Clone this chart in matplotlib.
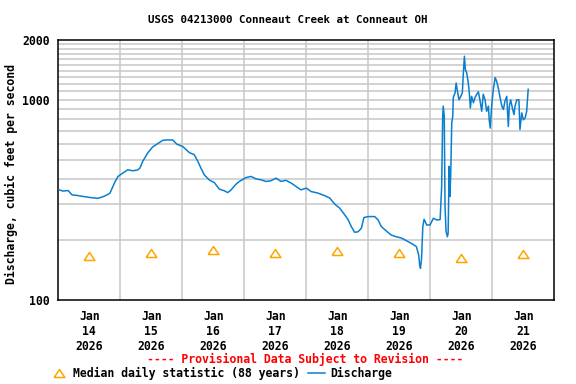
import matplotlib
matplotlib.use("Agg")
import matplotlib.pyplot as plt
from matplotlib.lines import Line2D
import numpy as np

# ---- data ----
# hours since 2026-01-14 00:00
hours = [0.3, 1.8, 3.8, 5.3, 7.2, 9.6, 12.3, 15.0, 16.1, 17.3, 18.9, 20.0, 21.9, 23.1,
         24.9, 26.9, 28.8, 30.7, 31.6, 32.7, 34.6, 36.5, 38.5, 40.4, 41.7, 44.3, 45.9,
         48.2, 50.7, 52.6, 54.0, 55.2, 56.5, 58.5, 60.4, 62.3, 64.3, 65.6, 66.9, 68.8,
         70.1, 72.7, 74.6, 76.5, 78.5, 80.4, 82.3, 84.3, 86.2, 88.1, 90.1, 92.0, 93.9,
         96.0, 97.9, 100.5, 103.1, 105.1, 107.0, 108.9, 110.9, 112.1, 113.4, 114.7,
         116.0, 117.3, 118.3, 119.9, 122.5, 123.8, 125.0, 127.0, 128.9, 130.8, 132.8,
         134.7, 136.6, 138.6, 139.5, 139.9, 140.2, 140.6, 141.1, 141.6, 142.6, 143.9,
         145.2, 146.5, 147.8, 148.4, 148.8, 149.0, 149.4, 149.7, 150.1, 150.6, 150.9,
         151.3, 151.6, 151.9, 152.3, 152.7, 152.9, 153.6, 154.0, 154.5, 155.1, 155.8,
         156.4, 156.8, 157.2, 157.6, 158.1, 158.7, 159.1, 159.5, 160.0, 160.7, 161.3,
         162.0, 162.6, 163.2, 163.9, 164.5, 165.2, 165.8, 166.5, 166.8, 167.2, 167.8,
         168.4, 169.1, 169.7, 170.3, 171.0, 171.7, 172.3, 172.9, 173.6, 174.2, 174.6,
         175.1, 175.9, 176.4, 176.8, 177.5, 178.3, 178.7, 179.4, 180.0, 180.7, 181.3,
         181.9]
discharge = [355, 350, 352, 335, 333, 329, 325, 322, 324, 328, 335, 342, 388, 414,
             430, 447, 442, 446, 456, 493, 542, 581, 604, 627, 630, 630, 600,
             584, 545, 532, 493, 456, 422, 397, 386, 358, 351, 344, 355, 379,
             391, 409, 414, 403, 398, 391, 394, 406, 391, 396, 384, 369, 355,
             362, 348, 342, 332, 323, 301, 288, 266, 253, 233, 218,
             219, 228, 258, 261, 261, 251, 233, 221, 211, 207, 204,
             198, 192, 185, 168, 149, 144, 160, 233, 253, 237, 237,
             256, 251, 252, 369, 828, 930, 828, 293, 220, 207, 215,
             465, 329, 420, 766, 828, 1026, 1084, 1213, 1104, 1000, 1040,
             1084, 1365, 1650, 1405, 1365, 1213, 1084, 910, 1040, 967, 1026,
             1066, 1096, 1000, 876, 1066, 1000, 876, 930, 794, 722, 945,
             1128, 1290, 1236, 1148, 1026, 930, 894, 985, 1040, 736, 930,
             1000, 894, 843, 930, 1000, 1000, 710, 860, 794, 810, 876,
             1128]

median_hours = [12, 36, 60, 84, 108, 132, 156, 180]
median_values = [166, 172, 178, 171, 176, 172, 162, 169]

day_labels = ["Jan\n14\n2026", "Jan\n15\n2026", "Jan\n16\n2026", "Jan\n17\n2026",
              "Jan\n18\n2026", "Jan\n19\n2026", "Jan\n20\n2026", "Jan\n21\n2026"]
day_bounds = [24, 48, 72, 96, 120, 144, 168]
y_ticks = [100, 1000, 2000]
y_grid = [200, 300, 400, 500, 600, 700, 800, 900, 1000, 1100, 1200, 1300, 1400,
          1500, 1600, 1700, 1800, 1900]

title = "USGS 04213000 Conneaut Creek at Conneaut OH"
ylabel = "Discharge, cubic feet per second"
provisional = "---- Provisional Data Subject to Revision ----"

# ---- style ----
FONT = "DejaVu Sans Mono"
FS = 8.3
W, H = 576, 384
line_color = "#0a7fd0"
tri_color = "#ffa500"
grid_color = "#c8c8c8"

fig = plt.figure(figsize=(W / 100, H / 100), dpi=100)
L, R, T, B = 58.3, 554.3, 39.5, 300
ax = fig.add_axes([L / W, 1 - B / H, (R - L) / W, (B - T) / H])

ax.set_yscale("log")
ax.set_ylim(100, 2000)
ax.set_xlim(0, 192)

for g in y_grid:
    ax.axhline(g, color=grid_color, lw=1.1, zorder=1)
for d in day_bounds:
    ax.axvline(d, color=grid_color, lw=1.1, zorder=1)

tri = [(-1, -0.75), (1, -0.75), (0, 0.75), (-1, -0.75)]
med_line, = ax.plot(median_hours, median_values, linestyle="none", marker=tri,
                    markersize=7.7, markerfacecolor="none", markeredgecolor=tri_color,
                    markeredgewidth=1.1, zorder=3, label="Median daily statistic (88 years)")
dis_line, = ax.plot(hours, discharge, color=line_color, lw=1.1, zorder=4,
                    label="Discharge")

ax.yaxis.set_major_locator(matplotlib.ticker.FixedLocator(y_ticks))
ax.yaxis.set_minor_locator(matplotlib.ticker.NullLocator())
ax.set_yticklabels([str(v) for v in y_ticks])
ax.set_xticks(median_hours)
ax.set_xticklabels(day_labels)
ax.tick_params(axis="both", length=0)
ax.tick_params(axis="y", pad=6)
ax.tick_params(axis="x", pad=7.5)
for lab in ax.get_xticklabels() + ax.get_yticklabels():
    lab.set_fontfamily(FONT)
    lab.set_fontweight("bold")
    lab.set_fontsize(FS)
for lab in ax.get_xticklabels():
    lab.set_multialignment("center")
for s in ax.spines.values():
    s.set_color("black")
    s.set_linewidth(1.1)

fig.text(288 / W, 1 - 20 / H, title, ha="center", va="center",
         fontfamily=FONT, fontweight="bold", fontsize=7.8)
fig.text(11.5 / W, 1 - 174.3 / H, ylabel, ha="center", va="center", rotation=90,
         fontfamily=FONT, fontweight="bold", fontsize=FS)
fig.text(305 / W, 1 - 359 / H, provisional, ha="center", va="center", color="red",
         fontfamily=FONT, fontweight="bold", fontsize=FS)

leg = fig.legend(handles=[med_line, dis_line], loc="center left",
                 bbox_to_anchor=(51 / W, 1 - 373 / H), ncol=2, frameon=False,
                 handlelength=1.45, handletextpad=0.45, columnspacing=0.75,
                 borderpad=0, borderaxespad=0,
                 prop={"family": FONT, "weight": "bold", "size": FS})

fig.savefig("out.png", dpi=100)
